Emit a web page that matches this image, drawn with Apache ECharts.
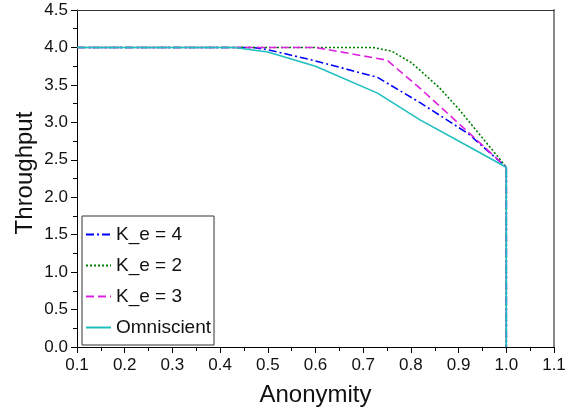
<!DOCTYPE html>
<html>
<head>
<meta charset="utf-8">
<script src="https://cdn.jsdelivr.net/npm/echarts@6/dist/echarts.min.js"></script>
<style>html,body{margin:0;padding:0;background:#fff;}#chart{width:573px;height:416px;}</style>
</head>
<body>
<div id="chart"></div>
<script>
var xTicks = [0.1, 1.1, 0.1];   // min, max, interval
var yTicks = [0, 4.5, 0.5];

var k4X = [0.1, 0.47, 0.5, 0.6, 0.73, 0.82, 0.92, 1.0, 1.0];
var k4Y = [4.0, 4.0, 3.97, 3.82, 3.6, 3.26, 2.85, 2.4, 0];

var k2X = [0.1, 0.72, 0.76, 0.8, 0.82, 0.86, 0.9, 0.945, 0.98, 1.0, 1.0];
var k2Y = [4.0, 4.0, 3.95, 3.8, 3.69, 3.46, 3.18, 2.83, 2.56, 2.4, 0];

var k3X = [0.1, 0.6, 0.75, 0.82, 0.92, 1.0, 1.0];
var k3Y = [4.0, 4.0, 3.83, 3.45, 2.87, 2.4, 0];

var omX = [0.1, 0.43, 0.5, 0.6, 0.73, 0.82, 0.92, 1.0, 1.0];
var omY = [4.0, 4.0, 3.94, 3.75, 3.39, 3.03, 2.68, 2.4, 0];

var names = ['K_e = 4', 'K_e = 2', 'K_e = 3', 'Omniscient'];

function zip(xs, ys) { return xs.map(function (x, i) { return [x, ys[i]]; }); }

var FONT = 'Liberation Sans, Arial, Helvetica, sans-serif';
var chart = echarts.init(document.getElementById('chart'), null, {renderer: 'canvas'});

function mkLine(name, data, color, type) {
  return {
    name: name, type: 'line', data: data, symbol: 'none', showSymbol: false,
    animation: false, clip: false,
    lineStyle: {color: color, width: 1.6, type: type},
    itemStyle: {color: color}
  };
}

chart.setOption({
  animation: false,
  backgroundColor: '#fff',
  grid: {left: 77, right: 19, top: 10, bottom: 69, containLabel: false},
  legend: {
    show: true,
    orient: 'vertical', left: 82, top: 216,
    data: names,
    itemWidth: 25, itemHeight: 10, itemGap: 12,
    padding: [9, 3, 8, 3],
    borderColor: '#333', borderWidth: 1, backgroundColor: '#fff',
    itemStyle: {color: 'rgba(0,0,0,0)', borderWidth: 0, opacity: 0},
    textStyle: {fontFamily: FONT, fontSize: 19, color: '#111'},
    selectedMode: false
  },
  xAxis: [{
    type: 'value', min: xTicks[0], max: xTicks[1], interval: xTicks[2],
    name: 'Anonymity', nameLocation: 'middle', nameGap: 36,
    nameTextStyle: {fontFamily: FONT, fontSize: 24, color: '#111'},
    axisLine: {show: true, onZero: false, lineStyle: {color: '#000', width: 1}},
    axisTick: {show: true, inside: false, length: 6, lineStyle: {color: '#000'}},
    minorTick: {show: true, splitNumber: 2, length: 4, lineStyle: {color: '#000'}},
    splitLine: {show: false},
    axisLabel: {fontFamily: FONT, fontSize: 17, color: '#111', margin: 10,
      formatter: function (v) { return v.toFixed(1); }}
  }, {
    type: 'value', position: 'top', min: xTicks[0], max: xTicks[1], interval: xTicks[2],
    axisLine: {show: true, onZero: false, lineStyle: {color: '#333', width: 1}},
    axisTick: {show: false}, axisLabel: {show: false}, splitLine: {show: false}
  }],
  yAxis: [{
    type: 'value', min: yTicks[0], max: yTicks[1], interval: yTicks[2],
    axisLine: {show: true, onZero: false, lineStyle: {color: '#000', width: 1}},
    axisTick: {show: true, inside: false, length: 6, lineStyle: {color: '#000'}},
    minorTick: {show: true, splitNumber: 2, length: 4, lineStyle: {color: '#000'}},
    splitLine: {show: false},
    axisLabel: {fontFamily: FONT, fontSize: 17, color: '#111', margin: 9,
      formatter: function (v) { return v.toFixed(1); }}
  }, {
    type: 'value', position: 'right', min: yTicks[0], max: yTicks[1], interval: yTicks[2],
    axisLine: {show: true, onZero: false, lineStyle: {color: '#888', width: 2}},
    axisTick: {show: false}, axisLabel: {show: false}, splitLine: {show: false}
  }],
  graphic: [{
    type: 'text', x: 25, y: 173, rotation: Math.PI / 2,
    style: {text: 'Throughput', fontFamily: FONT, fontSize: 24, fill: '#111',
      textAlign: 'center', textVerticalAlign: 'middle'}
  }],
  series: [
    mkLine(names[0], zip(k4X, k4Y), '#0000ff', [8, 3, 2, 3]),
    mkLine(names[1], zip(k2X, k2Y), '#008000', [2, 2]),
    mkLine(names[2], zip(k3X, k3Y), '#dd22dd', [8, 4]),
    mkLine(names[3], zip(omX, omY), '#1fbfbf', 'solid')
  ]
});
</script>
</body>
</html>
